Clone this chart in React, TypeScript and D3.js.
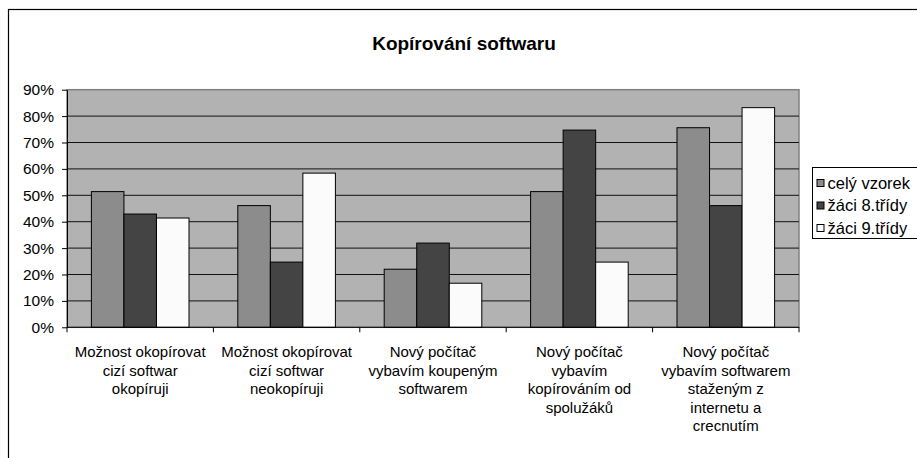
import * as d3 from 'd3';
import * as React from 'react';

const { useRef, useEffect } = React;

const width = 917;
const height = 458;
const plot = { left: 67, right: 799, top: 89.7, bottom: 327.3 };

const categories = [
  'Možnost okopírovat cizí softwar okopíruji',
  'Možnost okopírovat cizí softwar neokopíruji',
  'Nový počítač vybavím koupeným softwarem',
  'Nový počítač vybavím kopírováním od spolužáků',
  'Nový počítač vybavím softwarem staženým z internetu a crecnutím',
];

// category labels as they wrap in the picture
const categoryLines = [
  ['Možnost okopírovat', 'cizí softwar', 'okopíruji'],
  ['Možnost okopírovat', 'cizí softwar', 'neokopíruji'],
  ['Nový počítač', 'vybavím koupeným', 'softwarem'],
  ['Nový počítač', 'vybavím', 'kopírováním od', 'spolužáků'],
  ['Nový počítač', 'vybavím softwarem', 'staženým z', 'internetu a', 'crecnutím'],
];

const seriesNames = ['celý vzorek', 'žáci 8.třídy', 'žáci 9.třídy'];
const seriesColors = ['#8c8c8c', '#444444', '#fbfbfb'];

const celyVzorek = [0.514, 0.461, 0.22, 0.514, 0.756];
const zaci8 = [0.429, 0.247, 0.319, 0.747, 0.461];
const zaci9 = [0.414, 0.584, 0.167, 0.247, 0.832];

const yTicks = [0, 0.1, 0.2, 0.3, 0.4, 0.5, 0.6, 0.7, 0.8, 0.9];

const font = 'Arial, "Liberation Sans", sans-serif';

export default () => {
  const rootRef = useRef<SVGSVGElement>(null);

  useEffect(() => {
    const svg = d3.select(rootRef.current);
    svg.selectAll('*').remove();

    const values = [celyVzorek, zaci8, zaci9];

    const x = d3
      .scaleBand<string>()
      .domain(categories)
      .range([plot.left, plot.right])
      .padding(0);

    const bw = x.bandwidth();
    const xs = d3
      .scaleBand<string>()
      .domain(seriesNames)
      .range([bw / 6, (bw * 5) / 6])
      .padding(0);

    const y = d3
      .scaleLinear()
      .domain([0, 0.9])
      .range([plot.bottom, plot.top]);

    // chart border
    svg
      .append('rect')
      .attr('x', 8.5)
      .attr('y', 9.5)
      .attr('width', 940)
      .attr('height', 480)
      .attr('fill', '#fff')
      .attr('stroke', '#000')
      .attr('stroke-width', 1.2);

    svg
      .append('text')
      .attr('x', 464)
      .attr('y', 50)
      .attr('text-anchor', 'middle')
      .attr('font-family', font)
      .attr('font-weight', 'bold')
      .attr('font-size', 19)
      .text('Kopírování softwaru');

    // plot area
    svg
      .append('rect')
      .attr('x', plot.left)
      .attr('y', plot.top)
      .attr('width', plot.right - plot.left)
      .attr('height', plot.bottom - plot.top)
      .attr('fill', '#b2b2b2')
      .attr('stroke', '#808080')
      .attr('stroke-width', 1.5);

    svg
      .append('g')
      .selectAll('line')
      .data(yTicks.slice(1, -1))
      .join('line')
      .attr('x1', plot.left)
      .attr('x2', plot.right)
      .attr('y1', d => y(d))
      .attr('y2', d => y(d))
      .attr('stroke', '#111')
      .attr('stroke-width', 1);

    // bars
    svg
      .append('g')
      .selectAll('g')
      .data(seriesNames)
      .join('g')
      .attr('fill', (d, i) => seriesColors[i])
      .selectAll('rect')
      .data((s, i) => categories.map((c, j) => ({ c, s, v: values[i][j] })))
      .join('rect')
      .attr('x', d => (x(d.c) as number) + (xs(d.s) as number))
      .attr('y', d => y(d.v))
      .attr('width', xs.bandwidth())
      .attr('height', d => y(0) - y(d.v))
      .attr('stroke', '#000')
      .attr('stroke-width', 1);

    // y axis
    const yAxis = svg
      .append('g')
      .attr('transform', `translate(${plot.left},0)`)
      .call(
        d3
          .axisLeft(y)
          .tickValues(yTicks)
          .tickSize(5)
          .tickSizeOuter(0)
          .tickPadding(8)
          .tickFormat(d => `${Math.round((d as number) * 100)}%`),
      );
    yAxis.select('.domain').attr('stroke', '#000');
    yAxis
      .selectAll('text')
      .attr('font-family', font)
      .attr('font-size', 15.5)
      .attr('fill', '#000');

    // x axis
    const xg = svg.append('g');
    xg.append('line')
      .attr('x1', plot.left)
      .attr('x2', plot.right)
      .attr('y1', plot.bottom)
      .attr('y2', plot.bottom)
      .attr('stroke', '#000');
    xg.selectAll('line.tick')
      .data([...categories.map(c => x(c) as number), plot.right])
      .join('line')
      .attr('class', 'tick')
      .attr('x1', d => d)
      .attr('x2', d => d)
      .attr('y1', plot.bottom)
      .attr('y2', plot.bottom + 5)
      .attr('stroke', '#000');

    xg.selectAll('text')
      .data(categories)
      .join('text')
      .attr('font-family', font)
      .attr('font-size', 15)
      .attr('text-anchor', 'middle')
      .each(function (c, i) {
        d3.select(this)
          .selectAll('tspan')
          .data(categoryLines[i])
          .join('tspan')
          .attr('x', (x(c) as number) + bw / 2)
          .attr('y', (l, k) => 357 + k * 18.6)
          .text(l => l);
      });

    // legend
    const lg = svg.append('g').attr('transform', 'translate(812.5,167.5)');
    lg.append('rect')
      .attr('width', 120)
      .attr('height', 71)
      .attr('fill', '#fff')
      .attr('stroke', '#000');
    const item = lg
      .selectAll('g')
      .data(seriesNames)
      .join('g')
      .attr('transform', (d, i) => `translate(0,${15.5 + i * 22.5})`);
    item
      .append('rect')
      .attr('x', 4.5)
      .attr('y', -3.5)
      .attr('width', 7)
      .attr('height', 7)
      .attr('fill', (d, i) => seriesColors[i])
      .attr('stroke', '#000');
    item
      .append('text')
      .attr('x', 15)
      .attr('y', 0)
      .attr('dy', '0.35em')
      .attr('font-family', font)
      .attr('font-size', 16.5)
      .text(d => d);
  }, []);

  return (
    <svg
      ref={rootRef}
      width={width}
      height={height}
      style={{ position: 'absolute', left: 0, top: 0, display: 'block' }}
    />
  );
};
